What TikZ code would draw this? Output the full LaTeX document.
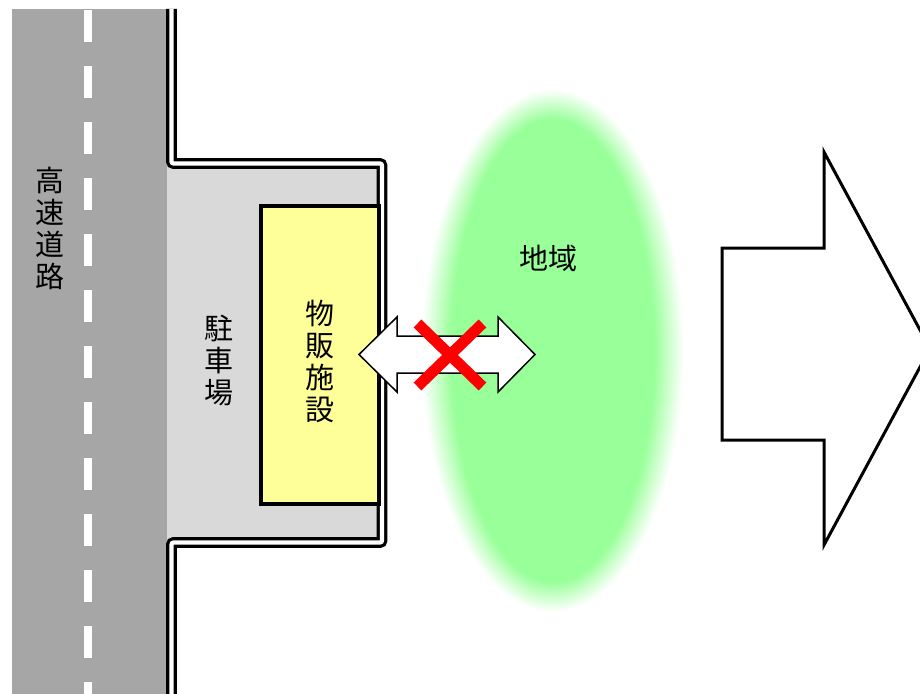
\documentclass[tikz,border=0pt]{standalone}
\usepackage{fontspec}
\newfontfamily\jp{Noto Sans CJK JP}
\definecolor{roadgray}{HTML}{A6A6A6}
\definecolor{parkgray}{HTML}{D9D9D9}
\definecolor{shopyellow}{HTML}{FFFF99}
\definecolor{areagreen}{HTML}{99FF99}
\definecolor{xred}{HTML}{FF0000}
\begin{document}
\begin{tikzpicture}[x=1pt,y=-1pt,
  dbl/.style={draw=black,line width=3.2pt,double=white,double distance=4.2pt,rounded corners=2pt},
  dashseg/.style={fill=white},
  shopbox/.style={draw=black,fill=shopyellow,line width=3.5pt},
  lbl/.style={font=\jp\fontsize{29}{32}\selectfont,align=center,inner sep=0pt,text=black},
  arrowshape/.style={draw=black,fill=white,line width=1.5pt,line join=miter},
  bigarrow/.style={draw=black,fill=white,line width=3pt,line join=miter},
  cross/.style={draw=xred,line width=11pt}]
\clip (0,0) rectangle (920,693);
\fill[white] (0,0) rectangle (920,693);
% road
\fill[roadgray] (12,9) rectangle (167,700);
\foreach \k in {0,...,12}{
  \pgfmathsetmacro\ya{10+56*\k}
  \fill[dashseg] (83.5,\ya) rectangle (91.5,\ya+32);
}
% parking
\fill[parkgray] (167,163.5) rectangle (382,542.5);
\draw[dbl] (171.5,9) -- (171.5,163.5) -- (382,163.5) -- (382,542.5) -- (171.5,542.5) -- (171.5,700);
% shop
\draw[shopbox] (261,206) rectangle (379,504);
% area ellipse (blurred)
\foreach \i in {0,...,20}{
  \pgfmathsetmacro\off{14-1.5*\i}
  \pgfmathtruncatemacro\pc{5*\i}
  \pgfmathsetmacro\rx{118+\off}
  \pgfmathsetmacro\ry{248+\off}
  \fill[areagreen!\pc!white] (553,351) ellipse [x radius=\rx pt, y radius=\ry pt];
}
% double arrow
\draw[arrowshape] (359,354.5) -- (397,317) -- (397,336) -- (498,336) -- (498,317)
  -- (535,354.5) -- (498,392) -- (498,373) -- (397,373) -- (397,392) -- cycle;
% cross
\coordinate (xa) at (417.5,323.5);
\coordinate (xb) at (482.5,386.5);
\coordinate (xc) at (482.5,323.5);
\coordinate (xd) at (417.5,386.5);
\draw[cross] (xa) -- (xb);
\draw[cross] (xc) -- (xd);
% big arrow
\draw[bigarrow] (722,248) -- (824,248) -- (824,152) -- (930,348.5) -- (824,545) -- (824,440) -- (722,440) -- cycle;
% labels
\node[lbl] (road) at (50,228) {高\\速\\道\\路};
\node[lbl] (park) at (219,360) {駐\\車\\場};
\node[lbl] (shop) at (320,361.5) {物\\販\\施\\設};
\node[lbl] (area) at (548,258) {地域};
\end{tikzpicture}
\end{document}
